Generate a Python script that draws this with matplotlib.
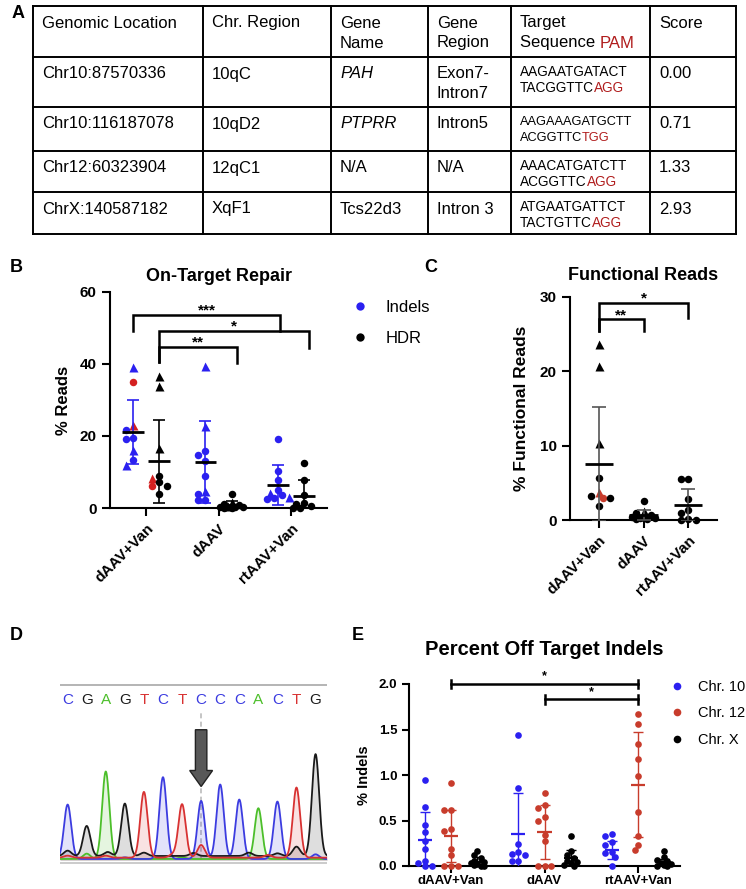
import numpy as np
import matplotlib
matplotlib.use("Agg")
import matplotlib.pyplot as plt
from matplotlib.patches import FancyArrow
from matplotlib.lines import Line2D

plt.rcParams['font.family'] = ['Liberation Sans', 'DejaVu Sans']
plt.rcParams['axes.linewidth'] = 1.5

W, H = 746, 889
BLUE = '#2b20f0'
RED = '#d42020'
RED_E = '#c83c2c'

groups = ['dAAV+Van', 'dAAV', 'rtAAV+Van']

# ---------------- A: off-target sites table ----------------
header = [['Genomic Location'], ['Chr. Region'], ['Gene', 'Name'], ['Gene', 'Region'],
          ['Target', 'Sequence '], ['Score']]
locations = ['Chr10:87570336', 'Chr10:116187078', 'Chr12:60323904', 'ChrX:140587182']
chr_regions = ['10qC', '10qD2', '12qC1', 'XqF1']
gene_names = ['PAH', 'PTPRR', 'N/A', 'Tcs22d3']
gene_italic = [True, True, False, False]
gene_regions = [['Exon7-', 'Intron7'], ['Intron5'], ['N/A'], ['Intron 3']]
seq_line1 = ['AAGAATGATACT', 'AAGAAAGATGCTT', 'AAACATGATCTT', 'ATGAATGATTCT']
seq_line2 = ['TACGGTTC', 'ACGGTTC', 'ACGGTTC', 'TACTGTTC']
pams = ['AGG', 'TGG', 'AGG', 'AGG']
scores = ['0.00', '0.71', '1.33', '2.93']

# ---------------- B: on-target repair (% reads) ----------------
indel_vals = [[39.2, 34.9, 23.1, 21.8, 19.4, 19.2, 16.0, 13.2, 12.0],
              [39.4, 22.7, 15.7, 14.8, 13.1, 9.0, 4.6, 4.0, 2.3, 2.1],
              [19.2, 10.2, 7.9, 5.1, 4.2, 3.7, 3.1, 2.7, 2.5]]
indel_shapes = ['^o^ooo^o^', '^^oooo^ooo', 'oooo^o^oo']
indel_cols = ['brrbbbbbb', 'bbbbbbbbbb', 'bbbbbbbbb']
indel_mean = [21.1, 12.8, 6.4]
indel_sd = [8.8, 11.5, 5.5]
hdr_vals = [[36.8, 33.8, 16.7, 8.8, 8.3, 7.1, 6.2, 6.0, 3.9],
            [3.9, 1.6, 1.2, 0.9, 0.6, 0.4, 0.3, 0.2, 0.1, 0.1],
            [12.5, 7.9, 3.7, 1.4, 1.1, 0.5, 0.0, 0.0]]
hdr_shapes = ['^^^o^oooo', 'o^oo^ooooo', 'oooooooo']
hdr_cols = ['kkkkrkrkk', 'kkkkkkkkkk', 'kkkkkkkk']
hdr_mean = [13.0, 0.9, 3.4]
hdr_sd = [11.5, 1.0, 4.3]
b_brackets = [(-0.18, 1.85, 53.6, 49.2, 49.2, '***'),
              (0.18, 2.25, 49.2, 40.6, 44.4, '*'),
              (0.18, 1.26, 44.7, 40.6, 40.3, '**')]

# ---------------- C: functional reads ----------------
func_vals = [[23.7, 20.7, 10.3, 5.7, 3.7, 3.2, 3.0, 3.0, 1.9],
             [2.6, 1.2, 0.9, 0.7, 0.5, 0.4, 0.3, 0.3, 0.2, 0.1],
             [5.5, 5.5, 2.8, 1.3, 0.9, 0.2, 0.0, 0.0]]
func_shapes = ['^^^o^oooo', 'o^oo^ooooo', 'oooooooo']
func_cols = ['kkkkrkrkk', 'kkkkkkkkkk', 'kkkkkkkk']
func_mean = [7.5, 0.7, 2.0]
func_sd = [7.7, 0.7, 2.2]
c_brackets = [(0, 2, 29.2, 25.4, 27.2, '*'),
              (0, 1, 27.0, 25.4, 25.4, '**')]

# ---------------- D: Sanger trace ----------------
bases = 'CGAGTCTCCCACTG'
peak_heights = [163, 90, 262, 157, 197, 245, 160, 174, 223, 178, 152, 172, 210, 305]
minor_peaks = {'G': [(0, 16), (2.1, 12), (4, 10), (6.6, 9), (9.5, 10), (11, 8), (12, 28)],
               'T': [(7, 38), (0, 6), (5.5, 9), (2, 6), (10.5, 8)],
               'C': [(13, 14), (3, 5)],
               'A': [(1, 16), (6, 5)]}
trace_base = {'G': 12, 'T': 7, 'C': 3, 'A': 3}
cut_site = 7

# ---------------- E: off-target indels ----------------
chr_names = ['Chr. 10', 'Chr. 12', 'Chr. X']
chr10_vals = [[0.94, 0.65, 0.45, 0.37, 0.27, 0.19, 0.06, 0.03, 0.0, 0.0],
              [1.44, 0.86, 0.24, 0.15, 0.13, 0.12, 0.06, 0.06],
              [0.35, 0.33, 0.26, 0.23, 0.15, 0.14, 0.10, 0.0]]
chr12_vals = [[0.91, 0.61, 0.61, 0.41, 0.39, 0.19, 0.12, 0.0, 0.0, 0.0],
              [0.80, 0.67, 0.64, 0.54, 0.50, 0.34, 0.28, 0.0, 0.0, 0.0],
              [1.67, 1.56, 1.34, 1.18, 0.99, 0.59, 0.33, 0.23, 0.18]]
chrx_vals = [[0.17, 0.12, 0.09, 0.06, 0.04, 0.03, 0.02, 0.01, 0.0, 0.0],
             [0.33, 0.17, 0.12, 0.09, 0.06, 0.04, 0.03, 0.01, 0.0],
             [0.16, 0.10, 0.07, 0.05, 0.03, 0.02, 0.01, 0.0, 0.0]]
chr10_mean = [0.29, 0.35, 0.18]
chr10_sd = [0.30, 0.45, 0.10]
chr12_mean = [0.33, 0.375, 0.895]
chr12_sd = [0.29, 0.30, 0.58]
chrx_mean = [0.045, 0.09, 0.04]
chrx_sd = [0.05, 0.09, 0.04]
e_brackets = [(0, 2, 2.0, '*'), (1, 2, 1.83, '*')]


fig = plt.figure(figsize=(W / 100, H / 100), dpi=100)


def add_ax(x0, y0, x1, y1):
    return fig.add_axes([x0 / W, 1 - y1 / H, (x1 - x0) / W, (y1 - y0) / H])


lay = add_ax(0, 0, W, H)
lay.set_xlim(0, W)
lay.set_ylim(H, 0)
lay.axis('off')

# table grid
col_x = [33, 203, 331, 428, 511, 650, 736]
row_y = [6, 57, 107, 151, 192, 234]
for x in col_x:
    lay.plot([x, x], [row_y[0], row_y[-1]], color='k', lw=1.4)
for y in row_y:
    lay.plot([col_x[0], col_x[-1]], [y, y], color='k', lw=1.4)


def cell(ci, ri, lines, size=12, style='normal', step=20, first=17, pam=None, pam_size=None):
    x = col_x[ci] + 9
    t = None
    for k, s in enumerate(lines):
        t = lay.text(x, row_y[ri] + first + k * step, s, fontsize=size, style=style,
                     va='center', ha='left')
    if pam is not None:
        lay.annotate(pam, xy=(1, 0), xycoords=t, va='bottom', ha='left',
                     fontsize=pam_size or size, color='#b01c1c')


for ci, lines in enumerate(header):
    cell(ci, 0, lines, pam='PAM' if ci == 4 else None)
for ri in range(4):
    cell(0, ri + 1, [locations[ri]])
    cell(1, ri + 1, [chr_regions[ri]])
    cell(2, ri + 1, [gene_names[ri]], style='italic' if gene_italic[ri] else 'normal')
    cell(3, ri + 1, gene_regions[ri])
    fs = 9.2 if ri == 1 else 9.8
    cell(4, ri + 1, [seq_line1[ri], seq_line2[ri]], size=fs, step=16, first=15,
         pam=pams[ri])
    cell(5, ri + 1, [scores[ri]])

for lab, (x, y) in zip('ABCDE', [(12, 14), (10, 268), (424, 268), (10, 635), (352, 635)]):
    lay.text(x, y, lab, fontsize=13, fontweight='bold', ha='left', va='center')

cmap = {'b': BLUE, 'r': RED, 'k': 'black'}


def swarm(ax, xc, vals, d_px, kmax=3):
    # simple deterministic beeswarm, done in screen pixels
    pts, out = [], []
    inv = ax.transData.inverted()
    ks = [0]
    for k in range(1, kmax + 1):
        ks += [-k, k]
    for v in vals:
        X0, Y = ax.transData.transform((xc, v))
        best, best_d = None, -1
        for k in ks:
            X = X0 + k * d_px * 0.5
            dmin = min([np.hypot(X - px, Y - py) for px, py in pts] or [1e9])
            if dmin >= d_px * 0.8:
                best = X
                break
            if dmin > best_d:
                best, best_d = X, dmin
        pts.append((best, Y))
        out.append(inv.transform((best, Y))[0])
    return out


def draw_points(ax, xc, vals, shapes, cols, ms, cm=cmap, kmax=3):
    xs = swarm(ax, xc, vals, ms / 0.72, kmax)
    for x, v, s, c in zip(xs, vals, shapes, cols):
        ax.plot(x, v, marker=s, color=cm[c], ms=ms * (1.2 if s == '^' else 1.0),
                ls='none', mec='none', clip_on=False, zorder=3)


def mean_sd(ax, xc, m, s, half, cap, ecol, mcol, lw_m=2.0, lw_e=1.2):
    ax.errorbar([xc], [m], yerr=[s], fmt='none', ecolor=ecol, elinewidth=lw_e,
                capsize=cap, capthick=lw_e, zorder=4)
    ax.hlines(m, xc - half, xc + half, color=mcol, lw=lw_m, zorder=5)


def style_ax(ax, lsize):
    for sp in ['top', 'right']:
        ax.spines[sp].set_visible(False)
    ax.tick_params(width=1.5, length=6, labelsize=lsize)
    for lbl in ax.get_yticklabels() + ax.get_xticklabels():
        lbl.set_fontweight('bold')


def bracket(ax, x1, x2, y, d1, d2, label, fs=11):
    ax.plot([x1, x1, x2, x2], [d1, y, y, d2], color='k', lw=1.8, clip_on=False,
            solid_joinstyle='miter')
    ax.annotate(label, ((x1 + x2) / 2, y), xytext=(0, -2), textcoords='offset points',
                ha='center', va='bottom', fontsize=fs, fontweight='bold')


# ---------------- B ----------------
axB = add_ax(110, 292, 327, 508)
axB.set_xlim(-0.5, 2.5)
axB.set_ylim(0, 60)
axB.set_yticks([0, 20, 40, 60])
axB.set_xticks(range(3))
axB.set_xticklabels(groups, rotation=45, ha='right', rotation_mode='anchor', fontsize=11.5)
style_ax(axB, 11)
axB.set_ylabel('% Reads', fontsize=12, fontweight='bold')
axB.yaxis.set_label_coords(-0.18, 0.5)
axB.set_title('On-Target Repair', fontsize=13, fontweight='bold', pad=8)
for i in range(3):
    draw_points(axB, i - 0.18, indel_vals[i], indel_shapes[i], indel_cols[i], 5.4)
    draw_points(axB, i + 0.18, hdr_vals[i], hdr_shapes[i], hdr_cols[i], 5.4)
    mean_sd(axB, i - 0.18, indel_mean[i], indel_sd[i], 0.15, 4.3, BLUE, 'black')
    mean_sd(axB, i + 0.18, hdr_mean[i], hdr_sd[i], 0.15, 4.3, 'black', 'black')
for b in b_brackets:
    bracket(axB, *b)
handles = [Line2D([], [], marker='o', ls='none', color=c, mec='none', ms=6) for c in [BLUE, 'black']]
axB.legend(handles, ['Indels', 'HDR'], loc='upper left', bbox_to_anchor=(352 / W, 1 - 300 / H),
           bbox_transform=fig.transFigure, frameon=False, fontsize=12, handlelength=1,
           handletextpad=1.0, labelspacing=0.95, borderpad=0, borderaxespad=0)

# ---------------- C ----------------
axC = add_ax(570, 297, 717, 520)
axC.set_xlim(-0.65, 2.65)
axC.set_ylim(0, 30)
axC.set_yticks([0, 10, 20, 30])
axC.set_xticks(range(3))
axC.set_xticklabels(groups, rotation=45, ha='right', rotation_mode='anchor', fontsize=11.5)
style_ax(axC, 11)
axC.set_ylabel('% Functional Reads', fontsize=12.5, fontweight='bold')
axC.yaxis.set_label_coords(-0.28, 0.5)
axC.set_title('Functional Reads', fontsize=13, fontweight='bold', pad=12)
cmapC = {'k': 'black', 'r': RED_E}
for i in range(3):
    draw_points(axC, i, func_vals[i], func_shapes[i], func_cols[i], 5.4, cmapC)
    mean_sd(axC, i, func_mean[i], func_sd[i], 0.32, 5.0, '#555555', 'black')
for b in c_brackets:
    bracket(axC, *b)

# ---------------- D ----------------
axD = add_ax(60, 684, 327, 864)
axD.set_xlim(-0.4, 13.6)
axD.set_ylim(-12, 527)
axD.axis('off')
trace_cols = {'A': '#4cbf2a', 'C': '#3c3ce0', 'G': '#1a1a1a', 'T': '#d83232'}
xs = np.linspace(-0.4, 13.6, 1600)
axD.axhline(525, color='#a8a8a8', lw=1.2)
axD.axhline(-9, color='#cccccc', lw=2.2)
axD.plot([cut_site, cut_site], [0, 450], ls=(0, (3, 2)), color='#bbbbbb', lw=1.2, zorder=1)
for b in 'ACGT':
    y = np.full_like(xs, trace_base[b], dtype=float)
    for i, (base, h) in enumerate(zip(bases, peak_heights)):
        if base == b:
            y += h * np.exp(-0.5 * ((xs - i) / 0.19) ** 2)
    for pos, h in minor_peaks[b]:
        y += h * np.exp(-0.5 * ((xs - pos) / 0.19) ** 2)
    axD.fill_between(xs, 0, y, color=trace_cols[b], alpha=0.14, lw=0, zorder=2)
    axD.plot(xs, y, color=trace_cols[b], lw=1.3, zorder=3)
for i, base in enumerate(bases):
    axD.text(i, 480, base, color=trace_cols[base], fontsize=11, ha='center', va='center')
axD.add_patch(FancyArrow(cut_site, 390, 0, -170, width=0.6, head_width=1.2, head_length=48,
                         length_includes_head=True, fc='#585858', ec='#222222', lw=1, zorder=5))

# ---------------- E ----------------
axE = add_ax(409, 684, 680, 866)
axE.set_xlim(-0.45, 2.45)
axE.set_ylim(0, 2)
axE.set_yticks([0, 0.5, 1.0, 1.5, 2.0])
axE.set_yticklabels(['0.0', '0.5', '1.0', '1.5', '2.0'])
axE.set_xticks(range(3))
axE.set_xticklabels(groups, fontsize=9.5)
style_ax(axE, 9.5)
axE.tick_params(length=5)
axE.tick_params(axis='x', pad=1.5)
axE.set_ylabel('% Indels', fontsize=10.5, fontweight='bold')
axE.yaxis.set_label_coords(-0.14, 0.5)
axE.set_title('Percent Off Target Indels', fontsize=14.5, fontweight='bold', pad=21)
series = [(chr10_vals, chr10_mean, chr10_sd, BLUE, -0.28),
          (chr12_vals, chr12_mean, chr12_sd, RED_E, 0.0),
          (chrx_vals, chrx_mean, chrx_sd, 'black', 0.28)]
for vals, mean, sd, col, off in series:
    for i in range(3):
        n = len(vals[i])
        draw_points(axE, i + off, vals[i], 'o' * n, 'c' * n, 4.8, {'c': col}, kmax=2)
        mean_sd(axE, i + off, mean[i], sd[i], 0.075, 3.3, col, col, lw_m=1.6, lw_e=1.0)
for x1, x2, y, lab in e_brackets:
    axE.plot([x1, x2], [y, y], color='k', lw=1.8, clip_on=False)
    axE.plot([x1, x1], [y - 0.045, y + 0.045], color='k', lw=1.8, clip_on=False)
    axE.plot([x2, x2], [y - 0.045, y + 0.045], color='k', lw=1.8, clip_on=False)
    axE.annotate(lab, ((x1 + x2) / 2, y), xytext=(0, 1), textcoords='offset points',
                 ha='center', va='bottom', fontsize=9, fontweight='bold')
handlesE = [Line2D([], [], marker='o', ls='none', color=c, mec='none', ms=5.5) for c in [BLUE, RED_E, 'black']]
axE.legend(handlesE, chr_names, loc='upper left', bbox_to_anchor=(670 / W, 1 - 680 / H),
           bbox_transform=fig.transFigure, frameon=False, fontsize=10.5, handlelength=1,
           handletextpad=0.9, labelspacing=0.85, borderpad=0, borderaxespad=0)

fig.savefig('out.png', dpi=100)
